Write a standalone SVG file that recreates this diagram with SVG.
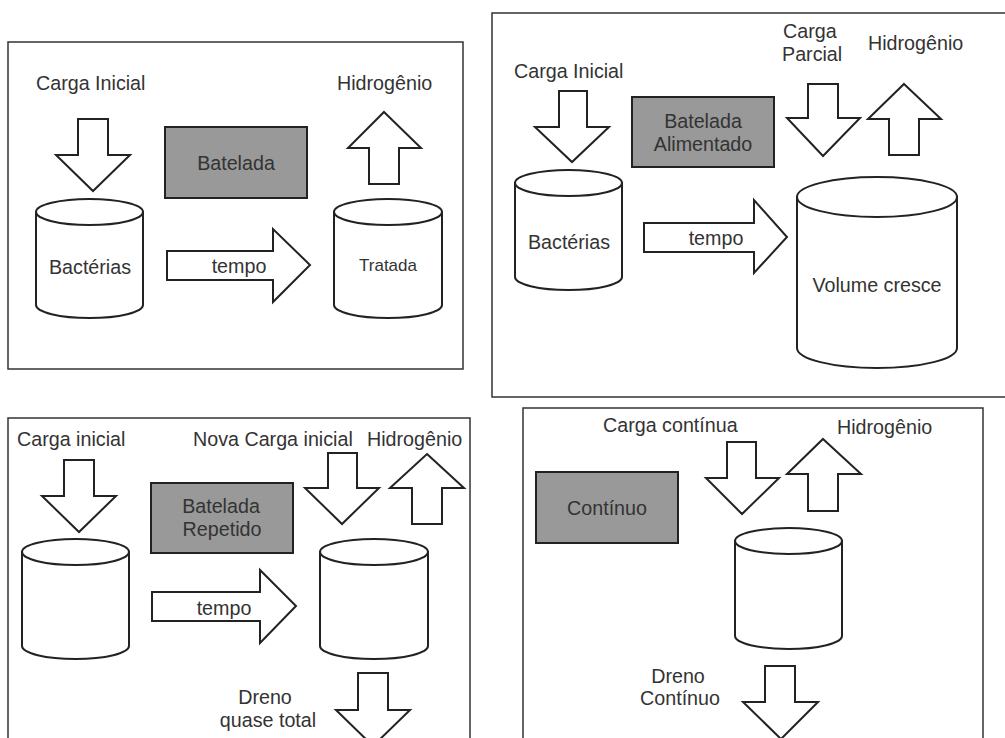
<svg xmlns="http://www.w3.org/2000/svg" width="1005" height="738" viewBox="0 0 1005 738">
<style>
.frame{fill:#fff;stroke:#333;stroke-width:1.5}
.box{fill:#999;stroke:#222;stroke-width:2}
.shape{fill:#fff;stroke:#222;stroke-width:2;stroke-linejoin:miter}
text{font-family:"Liberation Sans",Arial,sans-serif;font-size:19.7px;fill:#333}
.c{text-anchor:middle}
.sm{font-size:17px}
</style>
<rect width="1005" height="738" fill="#fff"/>

<!-- Panel 1: Batelada -->
<g id="panel1">
<rect class="frame" x="8" y="42" width="455" height="327"/>
<g id="p1-box"><rect class="box" x="165" y="127" width="142" height="71"/><text class="c" x="236" y="170">Batelada</text></g>
<g id="p1-cyl1"><path class="shape" d="M36,212 V305 A53.5,13 0 0 0 143,305 V212 Z"/><ellipse class="shape" cx="89.5" cy="212" rx="53.5" ry="13"/><text class="c" x="90" y="274">Bactérias</text></g>
<g id="p1-cyl2"><path class="shape" d="M334,212 V305 A54,13 0 0 0 442,305 V212 Z"/><ellipse class="shape" cx="388" cy="212" rx="54" ry="13"/><text class="c sm" x="388" y="271">Tratada</text></g>
<text x="36" y="90">Carga Inicial</text>
<text x="337" y="90">Hidrogênio</text>
</g>

<!-- Panel 2: Batelada Alimentado -->
<g id="panel2">
<rect class="frame" x="492" y="13" width="520" height="384"/>
<g id="p2-box"><rect class="box" x="632" y="97" width="142" height="70"/><text class="c" x="703" y="128">Batelada</text><text class="c" x="703" y="151">Alimentado</text></g>
<g id="p2-cyl1"><path class="shape" d="M515,183 V277 A53.5,13 0 0 0 622,277 V183 Z"/><ellipse class="shape" cx="568.5" cy="183" rx="53.5" ry="13"/><text class="c" x="569" y="249">Bactérias</text></g>
<g id="p2-cyl2"><path class="shape" d="M797,197 V348 A80,20 0 0 0 957,348 V197 Z"/><ellipse class="shape" cx="877" cy="197" rx="80" ry="20"/><text class="c" x="877" y="292">Volume cresce</text></g>
<text x="514" y="78">Carga Inicial</text>
<text x="783" y="38">Carga</text>
<text x="782" y="61">Parcial</text>
<text x="868" y="50">Hidrogênio</text>
</g>

<!-- Panel 3: Batelada Repetido -->
<g id="panel3">
<rect class="frame" x="8" y="418" width="462" height="330"/>
<g id="p3-box"><rect class="box" x="151" y="483" width="142" height="70"/><text class="c" x="221" y="513">Batelada</text><text class="c" x="222" y="536">Repetido</text></g>
<g id="p3-cyl1"><path class="shape" d="M22,552 V646 A53.5,13 0 0 0 129,646 V552 Z"/><ellipse class="shape" cx="75.5" cy="552" rx="53.5" ry="13"/></g>
<g id="p3-cyl2"><path class="shape" d="M320,552 V646 A54,13 0 0 0 428,646 V552 Z"/><ellipse class="shape" cx="374" cy="552" rx="54" ry="13"/></g>
<text x="17" y="446">Carga inicial</text>
<text x="193" y="446">Nova Carga inicial</text>
<text x="367" y="446">Hidrogênio</text>
<text class="c" x="265" y="704">Dreno</text>
<text class="c" x="268" y="727">quase total</text>
</g>

<!-- Panel 4: Contínuo -->
<g id="panel4">
<rect class="frame" x="523" y="408" width="460" height="340"/>
<g id="p4-box"><rect class="box" x="536" y="472" width="142" height="71"/><text class="c" x="607" y="515">Contínuo</text></g>
<g id="p4-cyl"><path class="shape" d="M735,541 V636 A53.5,13 0 0 0 842,636 V541 Z"/><ellipse class="shape" cx="788.5" cy="541" rx="53.5" ry="13"/></g>
<text x="603" y="432">Carga contínua</text>
<text x="837" y="434">Hidrogênio</text>
<text class="c" x="678" y="683">Dreno</text>
<text class="c" x="680" y="705">Contínuo</text>
</g>

<!-- Connectors (block arrows) -->
<g id="connectors">
<polygon class="shape" points="78,119 108,119 108,155 130,155 93,191 56,155 78,155"/>
<polygon class="shape" points="384,112 421,148 399,148 399,184 369,184 369,148 348,148"/>
<polygon class="shape" points="167,251 273,251 273,229 310,265 273,302 273,280 167,280"/>
<text class="c" x="239" y="273">tempo</text>

<polygon class="shape" points="559,91 587,91 587,127 609,127 572,162 535,127 559,127"/>
<polygon class="shape" points="808,84 838,84 838,118 860,118 823,156 787,118 808,118"/>
<polygon class="shape" points="904,84 941,119 919,119 919,155 889,155 889,119 868,119"/>
<polygon class="shape" points="644,223 754,223 754,200 787,237 754,273 754,252 644,252"/>
<text class="c" x="716" y="245">tempo</text>

<polygon class="shape" points="64,460 94,460 94,496 116,496 79,532 42,496 64,496"/>
<polygon class="shape" points="328,453 357,453 357,488 379,488 342,524 305,488 328,488"/>
<polygon class="shape" points="427,454 464,488 442,488 442,524 412,524 412,488 390,488"/>
<polygon class="shape" points="152,592 260,592 260,570 296,606 260,643 260,621 152,621"/>
<text class="c" x="224" y="615">tempo</text>
<polygon class="shape" points="358,673 388,673 388,710 410,710 373,746 336,710 358,710"/>

<polygon class="shape" points="727,442 756,442 756,478 779,478 742,514 706,478 727,478"/>
<polygon class="shape" points="823,439 861,474 838,474 838,511 808,511 808,474 787,474"/>
<polygon class="shape" points="765,666 795,666 795,702 818,702 781,739 743,702 765,702"/>
</g>
</svg>
